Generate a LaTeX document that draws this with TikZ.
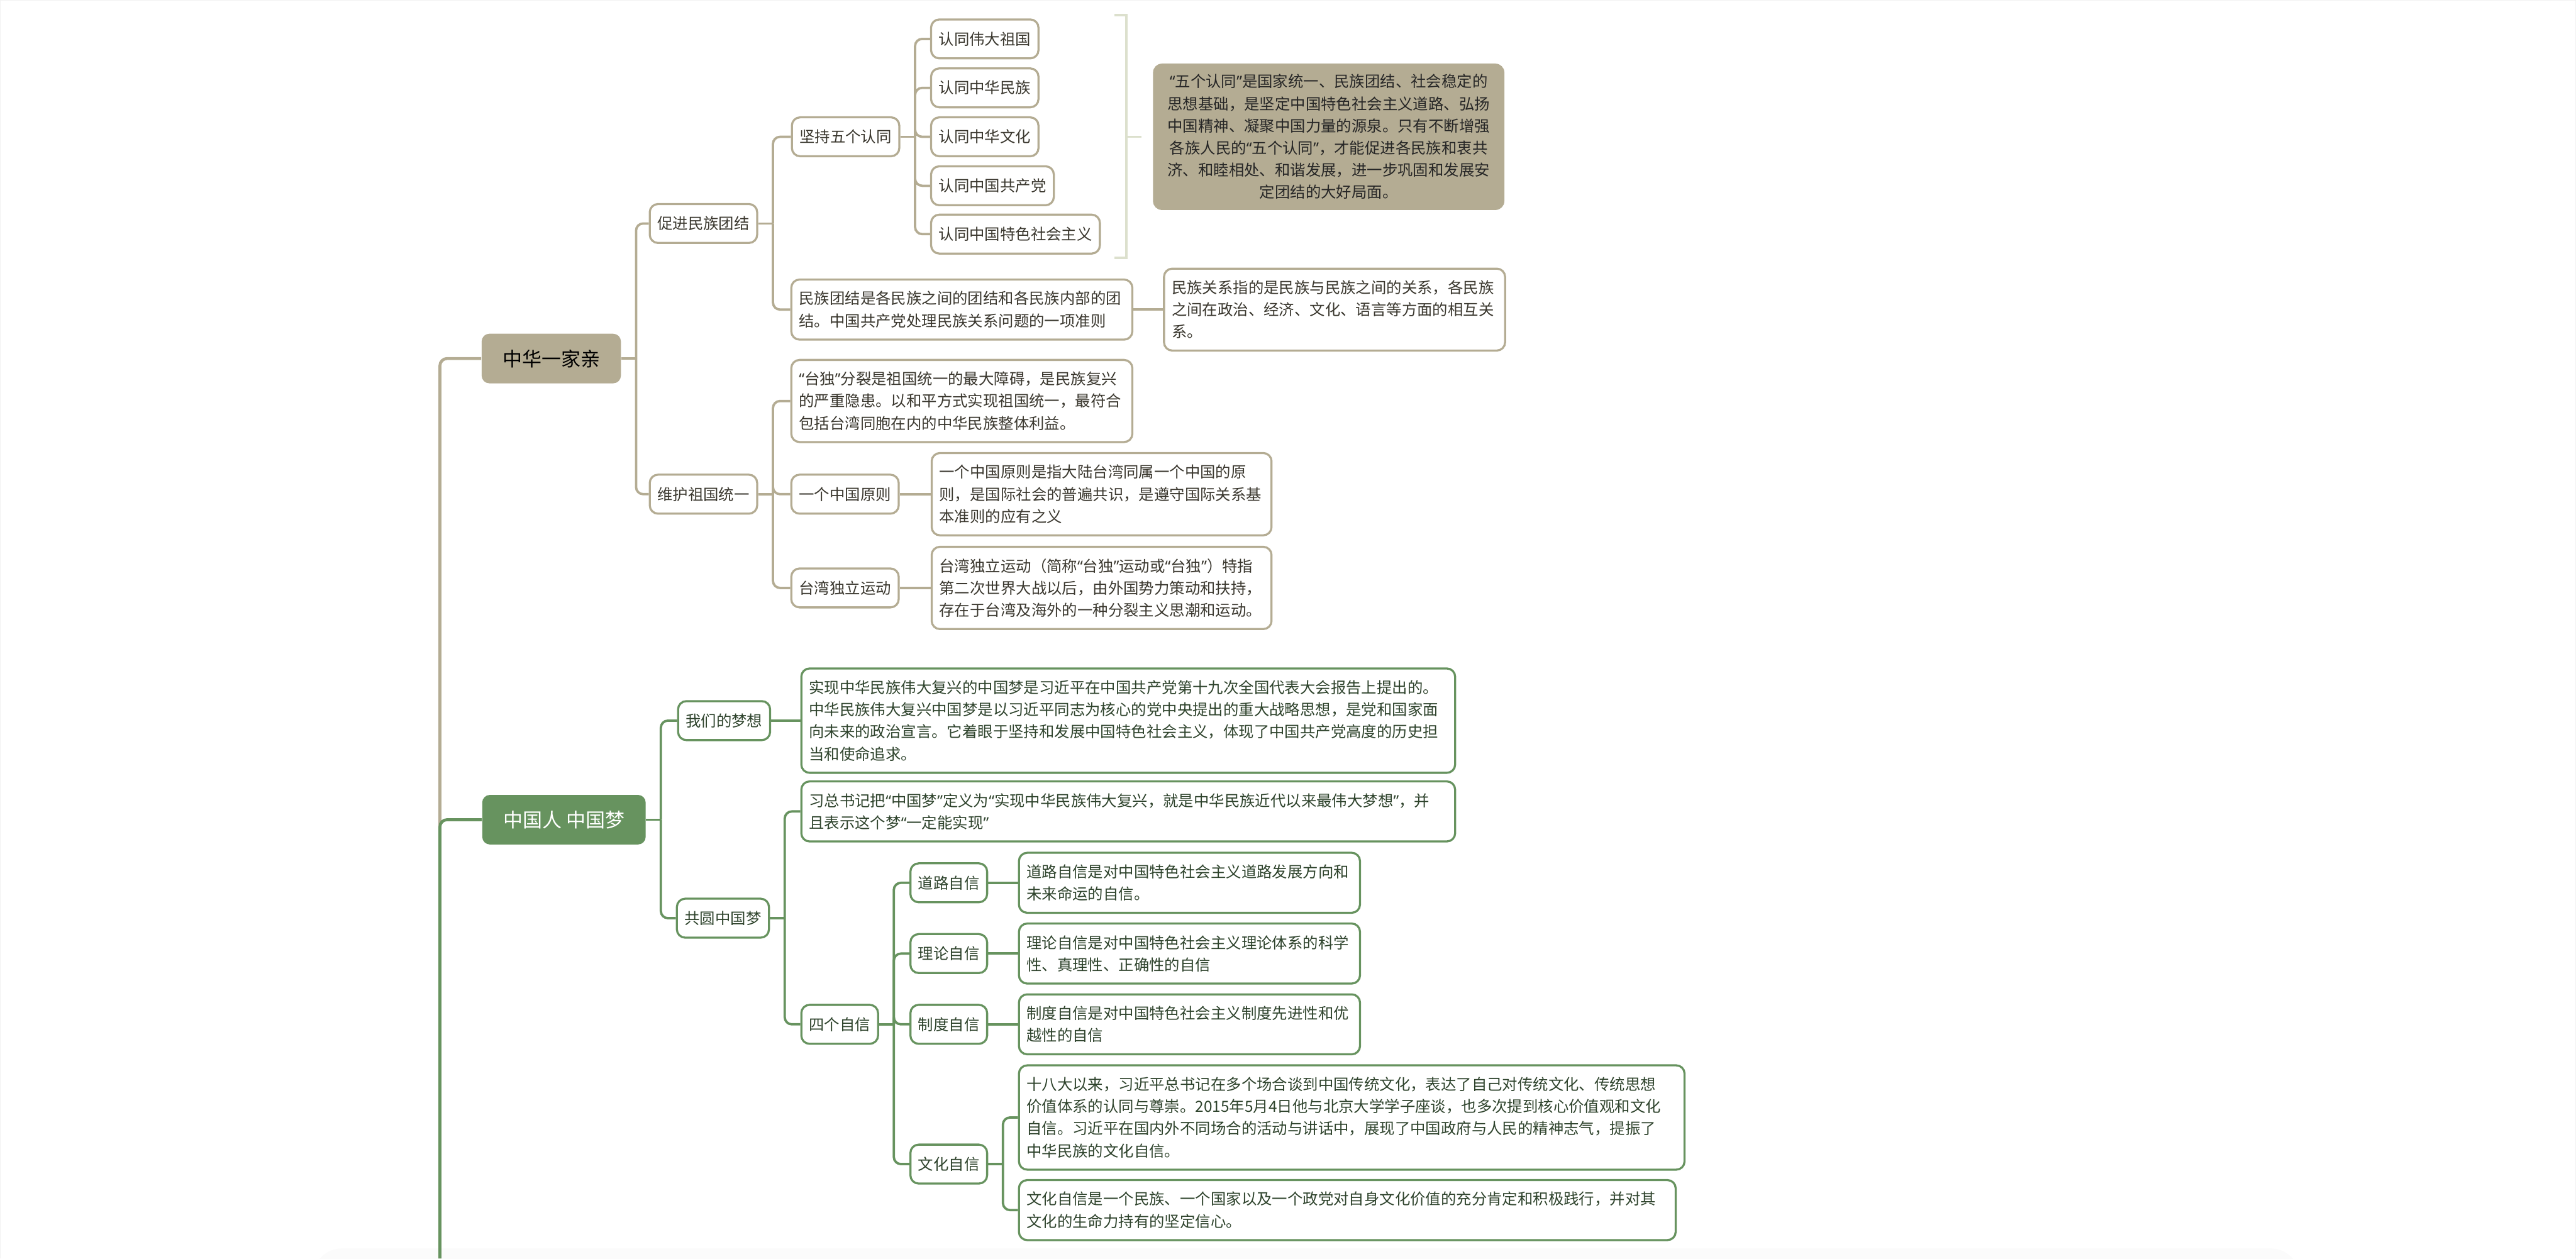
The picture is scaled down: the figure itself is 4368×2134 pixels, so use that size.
\documentclass[tikz,border=0pt]{standalone}
\usepackage{fontspec}
\setmainfont{Noto Sans CJK SC}
\newfontfamily\quotefont{Noto Sans}
\newcommand{\zqL}{{\quotefont “}}
\newcommand{\zqR}{{\quotefont ”}}
\definecolor{tanc}{HTML}{B4AC93}
\definecolor{greenc}{HTML}{67935F}
\definecolor{bracketc}{HTML}{DCE0CD}
\definecolor{tantext}{HTML}{3A372E}
\definecolor{greentext}{HTML}{2E432C}

\begin{document}
\begin{tikzpicture}[
  x=0.01cm, y=-0.01cm,
  topic/.style   = {rounded corners=0.13cm, minimum height=0.84cm, anchor=west,
                    font=\fontsize{9.4}{11}\selectfont},
  tanbox/.style  = {draw=tanc, line width=0.035cm, rounded corners=0.14cm, fill=white,
                    text=tantext, minimum height=0.66cm, inner xsep=0.13cm, inner ysep=0.2cm,
                    anchor=west, font=\fontsize{7.4}{10.67}\selectfont},
  greenbox/.style= {tanbox, draw=greenc, text=greentext},
  para/.style    = {align=left, text width=#1},
  summary/.style = {fill=tanc, rounded corners=0.15cm, text=black!85, align=center,
                    text width=5.72cm, minimum height=2.48cm,
                    font=\fontsize{7.4}{10.67}\selectfont},
  tanline/.style = {draw=tanc, line width=0.04cm, rounded corners=0.12cm},
  greenline/.style = {tanline, draw=greenc},
]

\useasboundingbox (0,0) rectangle (4368,2134);
\draw[gray!10, line width=0.03cm] (0,2134) -- (0,0) -- (4368,0) -- (4368,2134);
\fill[gray!3, rounded corners=0.5cm] (530,2117) rectangle (3900,2200);

% ── 中华一家亲 ───────────────────────────────────────────────────────────────
\node[topic, fill=tanc, text=black, minimum width=2.36cm] (zhjq) at (816,608) {中华一家亲};
\node[tanbox] (cjtj) at (1100,379) {促进民族团结};
\node[tanbox] (whtj) at (1100,838) {维护祖国统一};

\node[tanbox] (jcrt) at (1341,232) {坚持五个认同};
\node[tanbox] (rt1) at (1577,66)  {认同伟大祖国};
\node[tanbox] (rt2) at (1577,149) {认同中华民族};
\node[tanbox] (rt3) at (1577,232) {认同中华文化};
\node[tanbox] (rt4) at (1577,315) {认同中国共产党};
\node[tanbox] (rt5) at (1577,397) {认同中国特色社会主义};

\node[tanbox, para=5.52cm] (mztj) at (1340,525)
  {民族团结是各民族之间的团结和各民族内部的团\\结。中国共产党处理民族关系问题的一项准则};
\node[tanbox, para=5.52cm] (mzgx) at (1972,525)
  {民族关系指的是民族与民族之间的关系，各民族\\之间在政治、经济、文化、语言等方面的相互关\\系。};

\node[tanbox, para=5.52cm] (tdfl) at (1340,680)
  {\zqL 台独\zqR 分裂是祖国统一的最大障碍，是民族复兴\\的严重隐患。以和平方式实现祖国统一，最符合\\包括台湾同胞在内的中华民族整体利益。};
\node[tanbox] (yzyz) at (1340,838) {一个中国原则};
\node[tanbox, para=5.50cm] (yzyzd) at (1578,838)
  {一个中国原则是指大陆台湾同属一个中国的原\\则，是国际社会的普遍共识，是遵守国际关系基\\本准则的应有之义};
\node[tanbox] (twdl) at (1340,997) {台湾独立运动};
\node[tanbox, para=5.50cm] (twdld) at (1578,997)
  {台湾独立运动（简称\zqL 台独\zqR 运动或\zqL 台独\zqR ）特指\\第二次世界大战以后，由外国势力策动和扶持，\\存在于台湾及海外的一种分裂主义思潮和运动。};

% summary of the five identities
\node[summary] (zongjie) at (2253,232)
  {\zqL 五个认同\zqR 是国家统一、民族团结、社会稳定的\\思想基础，是坚定中国特色社会主义道路、弘扬\\中国精神、凝聚中国力量的源泉。只有不断增强\\各族人民的\zqL 五个认同\zqR ，才能促进各民族和衷共\\济、和睦相处、和谐发展，进一步巩固和发展安\\定团结的大好局面。};
\coordinate (brk-t) at (1890,26);
\coordinate (brk-b) at (1890,437);
\coordinate (brk-m) at (1910,232);
\coordinate (brk-e) at (1935,232);
\draw[bracketc, line width=0.04cm] (brk-t) -| (brk-m) |- (brk-b);
\draw[bracketc, line width=0.04cm] (brk-m) -- (brk-e);

% ── 中国人 中国梦 ─────────────────────────────────────────────────────────────
\node[topic, fill=greenc, text=white, minimum width=2.77cm] (zgm) at (817,1390) {中国人 中国梦};
\node[greenbox] (wmmx) at (1148,1222) {我们的梦想};
\node[greenbox, para=10.82cm] (wmmxd) at (1357,1222)
  {实现中华民族伟大复兴的中国梦是习近平在中国共产党第十九次全国代表大会报告上提出的。\\中华民族伟大复兴中国梦是以习近平同志为核心的党中央提出的重大战略思想，是党和国家面\\向未来的政治宣言。它着眼于坚持和发展中国特色社会主义，体现了中国共产党高度的历史担\\当和使命追求。};
\node[greenbox] (gyzgm) at (1146,1557) {共圆中国梦};
\node[greenbox, para=10.82cm] (xzsj) at (1357,1376)
  {习总书记把\zqL 中国梦\zqR 定义为\zqL 实现中华民族伟大复兴，就是中华民族近代以来最伟大梦想\zqR ，并\\且表示这个梦\zqL 一定能实现\zqR};
\node[greenbox] (sgzx) at (1357,1737) {四个自信};

\node[greenbox] (dlzx) at (1542,1497) {道路自信};
\node[greenbox, para=5.52cm] (dlzxd) at (1726,1497)
  {道路自信是对中国特色社会主义道路发展方向和\\未来命运的自信。};
\node[greenbox] (llzx) at (1542,1617) {理论自信};
\node[greenbox, para=5.52cm] (llzxd) at (1726,1617)
  {理论自信是对中国特色社会主义理论体系的科学\\性、真理性、正确性的自信};
\node[greenbox] (zdzx) at (1542,1737) {制度自信};
\node[greenbox, para=5.52cm] (zdzxd) at (1726,1737)
  {制度自信是对中国特色社会主义制度先进性和优\\越性的自信};
\node[greenbox] (whzx) at (1542,1974) {文化自信};
\node[greenbox, para=11.02cm] (sbd) at (1726,1895)
  {十八大以来，习近平总书记在多个场合谈到中国传统文化，表达了自己对传统文化、传统思想\\价值体系的认同与尊崇。2015年5月4日他与北京大学学子座谈，也多次提到核心价值观和文化\\自信。习近平在国内外不同场合的活动与讲话中，展现了中国政府与人民的精神志气，提振了\\中华民族的文化自信。};
\node[greenbox, para=10.87cm] (whzxd) at (1726,2052)
  {文化自信是一个民族、一个国家以及一个政党对自身文化价值的充分肯定和积极践行，并对其\\文化的生命力持有的坚定信心。};

% ── connectors ───────────────────────────────────────────────────────────────
\coordinate (root) at (746,2134);
\draw[tanline, line width=0.05cm] (root) |- (zhjq.west);
\draw[greenline, line width=0.05cm] (root) |- (zgm.west);

\draw[tanline] (zhjq.east) -- ++(25,0) coordinate (zhjq-s);
\foreach \c in {cjtj, whtj} \draw[tanline] (zhjq-s) |- (\c.west);
\draw[tanline] (cjtj.east) -- ++(25,0) coordinate (cjtj-s);
\foreach \c in {jcrt, mztj} \draw[tanline] (cjtj-s) |- (\c.west);
\draw[tanline] (jcrt.east) -- ++(25,0) coordinate (jcrt-s);
\foreach \c in {rt1, rt2, rt3, rt4, rt5} \draw[tanline] (jcrt-s) |- (\c.west);
\draw[tanline] (mztj.east) -- (mzgx.west);
\draw[tanline] (whtj.east) -- ++(25,0) coordinate (whtj-s);
\foreach \c in {tdfl, yzyz, twdl} \draw[tanline] (whtj-s) |- (\c.west);
\draw[tanline] (yzyz.east) -- (yzyzd.west);
\draw[tanline] (twdl.east) -- (twdld.west);

\draw[greenline] (zgm.east) -- ++(25,0) coordinate (zgm-s);
\foreach \c in {wmmx, gyzgm} \draw[greenline] (zgm-s) |- (\c.west);
\draw[greenline] (wmmx.east) -- (wmmxd.west);
\draw[greenline] (gyzgm.east) -- ++(25,0) coordinate (gyzgm-s);
\foreach \c in {xzsj, sgzx} \draw[greenline] (gyzgm-s) |- (\c.west);
\draw[greenline] (sgzx.east) -- ++(25,0) coordinate (sgzx-s);
\foreach \c in {dlzx, llzx, zdzx, whzx} \draw[greenline] (sgzx-s) |- (\c.west);
\draw[greenline] (dlzx.east) -- (dlzxd.west);
\draw[greenline] (llzx.east) -- (llzxd.west);
\draw[greenline] (zdzx.east) -- (zdzxd.west);
\draw[greenline] (whzx.east) -- ++(25,0) coordinate (whzx-s);
\foreach \c in {sbd, whzxd} \draw[greenline] (whzx-s) |- (\c.west);

\end{tikzpicture}
\end{document}
